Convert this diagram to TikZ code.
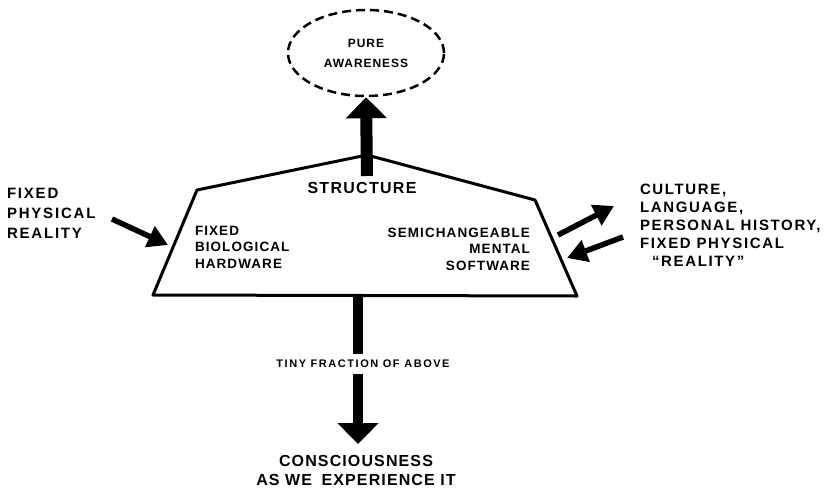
\documentclass[tikz,border=0pt]{standalone}
\usepackage{fontspec}
\usetikzlibrary{arrows.meta,shapes.geometric}
\newfontfamily\lbl{Liberation Sans}
\newcommand\myfnt[3]{\lbl\bfseries\fontsize{#1}{#2}\selectfont\addfontfeature{LetterSpace=#3}}
\tikzset{
  txt/.style={inner sep=0pt, outer sep=0pt, text=black},
  fatarrow/.style={line width=11pt, -{Triangle[width=40pt,length=21pt]}},
  thinarrow/.style={line width=5.5pt, -{Triangle[width=22pt,length=20pt]}},
  outline/.style={line width=3pt, line join=round},
}
\begin{document}
\begin{tikzpicture}[x=1pt,y=-1pt]
\useasboundingbox[fill=white] (0,0) rectangle (832,490);

% trapezoid (structure)
\coordinate (tl) at (197,190);
\coordinate (peak) at (367,155);
\coordinate (tr) at (535,200);
\coordinate (br) at (577,296);
\coordinate (bl) at (153,295);
\draw[outline] (tl) -- (peak) -- (tr) -- (br) -- (bl) -- cycle;

% pure awareness
\node (pure) [ellipse, draw, dash pattern=on 9pt off 5pt, line width=2.5pt,
  minimum width=156pt, minimum height=86pt, inner sep=0pt, align=center,
  font=\myfnt{12}{20}{8}] at (366,53) {PURE\\AWARENESS};

\coordinate (upstart) at (367,176);
\draw[fatarrow, line width=12pt] (upstart) -- (pure.south);

\node (structure) [txt, font=\myfnt{16}{18}{8}] at (362,187.5) {STRUCTURE};

\node (hard) [txt, anchor=north west, align=left, font=\myfnt{13.5}{16.5}{8}]
  at (195,226) {FIXED\\BIOLOGICAL\\HARDWARE};
\node (soft) [txt, anchor=north east, align=right, font=\myfnt{13.5}{16.5}{8}]
  at (530,228) {SEMICHANGEABLE\\MENTAL\\SOFTWARE};

% left input
\node (fpr) [txt, anchor=north west, align=left, font=\myfnt{15}{20}{12}]
  at (7,188.5) {FIXED\\PHYSICAL\\REALITY};
\coordinate (la) at (112,219);
\coordinate (lb) at (168,245);
\draw[thinarrow] (la) -- (lb);

% right side
\node (culture) [txt, anchor=north west, align=left, font=\myfnt{15}{18}{11}]
  at (640,184) {CULTURE,\\LANGUAGE,\\PERSONAL HISTORY,\\FIXED PHYSICAL\\\hspace*{12pt}“REALITY”};
\coordinate (ra1) at (558,235);
\coordinate (ra2) at (614,206);
\coordinate (rb1) at (623,237);
\coordinate (rb2) at (567,258);
\draw[thinarrow] (ra1) -- (ra2);
\draw[thinarrow] (rb1) -- (rb2);

% down arrow
\coordinate (downstart) at (358,296);
\coordinate (tip) at (358,444);
\draw[fatarrow, line width=10.5pt] (downstart) -- (tip);
\node (tiny) [txt, fill=white, inner xsep=2pt, inner ysep=6pt, font=\myfnt{11}{13}{14}]
  at (363,364) {TINY FRACTION OF ABOVE};

\node (consc) [txt, anchor=north, align=center, font=\myfnt{16}{19.5}{7}]
  at (356,455) {CONSCIOUSNESS\\AS WE\hspace{4pt} EXPERIENCE IT};
\end{tikzpicture}
\end{document}
